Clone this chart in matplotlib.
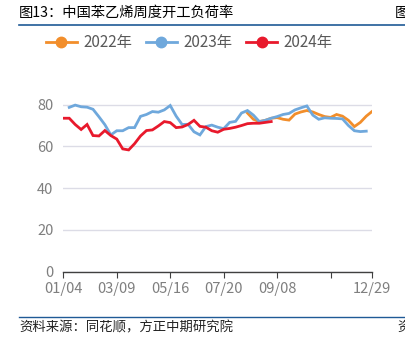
import matplotlib
matplotlib.use("Agg")
import matplotlib.pyplot as plt
from matplotlib.lines import Line2D

plt.rcParams['font.family'] = ['Noto Sans CJK SC', 'DejaVu Sans']

# weekly categories, index 0 = 01/04
n_weeks = 53
tick_pos = [0, 9, 18, 27, 36, 45, 52]
tick_labels = ["01/04", "03/09", "05/16", "07/20", "09/08", "", "12/29"]

# 2022: only available from week 31
start_2022 = 31
load_2022 = [76.0, 73.0, 71.9, 72.5, 73.5, 73.8, 73.0, 72.6, 75.5, 76.5, 77.2,
             76.5, 75.3, 74.3, 73.9, 75.3, 74.5, 72.5, 69.5, 71.5, 74.5, 76.8]

# 2023: starts at week 1
start_2023 = 1
load_2023 = [78.7, 79.8, 79.0, 78.8, 77.8, 74.2, 70.4, 65.5, 67.5, 67.5,
             69.0, 69.0, 74.4, 75.3, 76.7, 76.4, 77.5, 79.6, 74.5, 70.5,
             70.6, 67.0, 65.5, 69.5, 70.2, 69.2, 68.5, 71.5, 72.0, 76.0,
             77.2, 75.0, 71.9, 72.5, 73.5, 74.3, 75.3, 75.8, 77.5, 78.5,
             79.4, 75.0, 73.0, 73.7, 73.5, 73.4, 73.2, 70.0, 67.5, 67.1, 67.3]

# 2024: week 0 to 35
start_2024 = 0
load_2024 = [73.5, 73.5, 70.5, 68.1, 70.5, 65.2, 65.0, 67.6, 65.2, 63.5,
             58.8, 58.3, 61.3, 65.0, 67.6, 67.9, 69.8, 71.9, 71.4, 69.0,
             69.3, 70.5, 72.5, 69.6, 69.2, 67.5, 66.8, 68.2, 68.6, 69.2,
             70.0, 70.9, 71.1, 71.1, 71.5, 71.9]

c22 = "#F28E2B"
c23 = "#6FA8DC"
c24 = "#E8192C"
grey = "#7F7F7F"
navy = "#1F5A96"

fig = plt.figure(figsize=(4.05, 3.38), dpi=100)
W, H = 405, 338
ax = fig.add_axes([63.3 / W, 1 - 271.5 / H, (372.2 - 63.3) / W, (271.5 - 88) / H])

for start, vals, col in [(start_2022, load_2022, c22),
                         (start_2023, load_2023, c23),
                         (start_2024, load_2024, c24)]:
    xs = list(range(start, start + len(vals)))
    ax.plot(xs, vals, color=col, lw=2.0, solid_joinstyle="miter")

ax.set_xlim(0, n_weeks - 1)
ax.set_ylim(0, 88)
ax.set_yticks([0, 20, 40, 60, 80])
ax.set_xticks(tick_pos)
ax.set_xticklabels(tick_labels)
ax.grid(axis="y", color="#DCDCE6", lw=1.0)
ax.set_axisbelow(True)
for s in ["top", "right", "left"]:
    ax.spines[s].set_visible(False)
ax.spines["bottom"].set_color("#404040")
ax.spines["bottom"].set_linewidth(1.0)
ax.tick_params(axis="x", direction="out", length=4, color="#404040",
               labelsize=10.5, labelcolor=grey, pad=3.5)
ax.tick_params(axis="y", length=0, labelsize=10.5, labelcolor=grey, pad=7)

# legend
handles = [Line2D([], [], color=c, lw=2, marker="o", markersize=7.5) for c in (c22, c23, c24)]
fig.legend(handles, ["2022年", "2023年", "2024年"], loc="center left",
           bbox_to_anchor=(40 / W, 1 - 43 / H), ncol=3, frameon=False,
           fontsize=11, labelcolor="#595959", handlelength=2.0,
           handletextpad=0.45, columnspacing=0.9, borderaxespad=0)

# title and rules
fig.text(19 / W, 1 - 13 / H, "图13：中国苯乙烯周度开工负荷率", fontsize=10.3,
         va="center", ha="left", color="black")
fig.text(395 / W, 1 - 13 / H, "图", fontsize=10.3, va="center", ha="left", color="black")
fig.add_artist(Line2D([19 / W, 1], [1 - 24.5 / H] * 2, color=navy, lw=1.2))
fig.add_artist(Line2D([19 / W, 1], [1 - 316.5 / H] * 2, color=navy, lw=1.0))
fig.text(19 / W, 1 - 327 / H, "资料来源：同花顺，方正中期研究院", fontsize=9.6,
         va="center", ha="left", color="#222222", style="italic")
fig.text(397 / W, 1 - 327 / H, "资", fontsize=9.6, va="center", ha="left", color="#222222")

fig.savefig("out.png", dpi=100)
